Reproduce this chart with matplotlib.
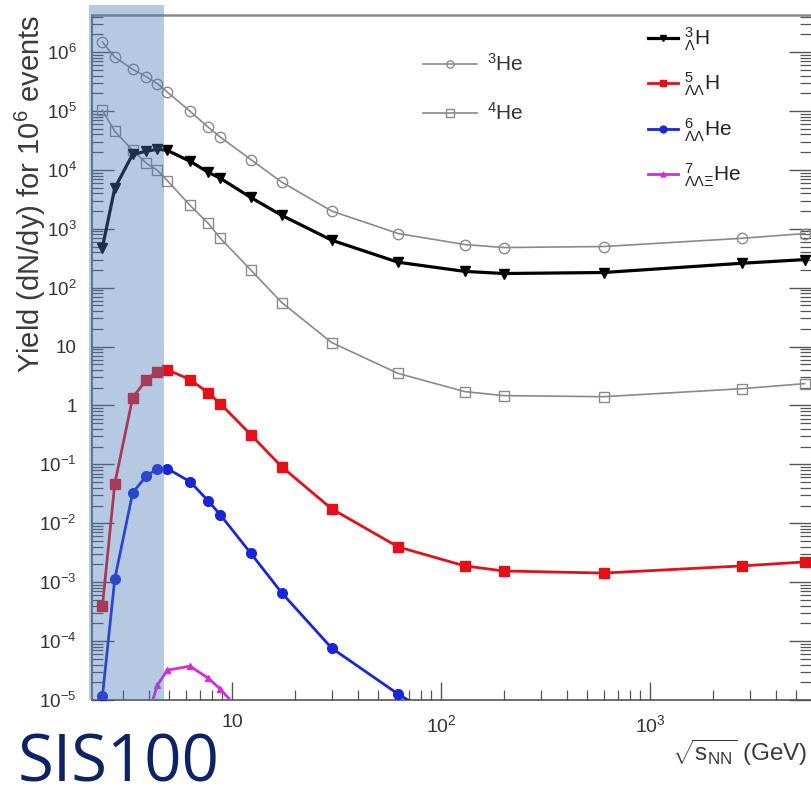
import matplotlib
matplotlib.use("Agg")
import matplotlib.pyplot as plt
from matplotlib.ticker import LogLocator, FixedLocator, FuncFormatter, NullFormatter
import math

plt.rcParams['font.family'] = ['Liberation Sans', 'DejaVu Sans']
plt.rcParams['mathtext.fontset'] = 'custom'
plt.rcParams['mathtext.rm'] = 'Liberation Sans'
plt.rcParams['mathtext.it'] = 'Liberation Sans'
plt.rcParams['mathtext.bf'] = 'Liberation Sans:bold'
plt.rcParams['mathtext.sf'] = 'Liberation Sans'

# ---------------- data ----------------
energies = [2.4, 2.75, 3.35, 3.9, 4.4, 4.9, 6.3, 7.7, 8.8, 12.3, 17.3, 30, 62.4, 130, 200, 600, 2760, 5500]
he3 = [1.48e6, 8.2e5, 5.1e5, 3.8e5, 2.9e5, 2.1e5, 9.9e4, 5.3e4, 3.6e4, 1.5e4, 6.2e3, 2.0e3,
       8.3e2, 5.4e2, 4.8e2, 5.0e2, 6.9e2, 8.3e2]
he4 = [1.03e5, 4.5e4, 2.15e4, 1.29e4, 9.8e3, 6.6e3, 2.5e3, 1.24e3, 6.9e2, 2.0e2, 56, 11.7,
       3.5, 1.72, 1.47, 1.41, 1.93, 2.35]
h3l = [4.8e2, 4.9e3, 1.84e4, 2.07e4, 2.24e4, 2.15e4, 1.40e4, 9.1e3, 7.2e3, 3.4e3, 1.69e3, 6.4e2,
       2.7e2, 1.89e2, 1.74e2, 1.81e2, 2.6e2, 3.0e2]
h5ll = [3.9e-4, 4.7e-2, 1.36, 2.75, 3.76, 4.06, 2.75, 1.65, 1.07, 0.32, 0.091, 0.0176,
        3.97e-3, 1.89e-3, 1.55e-3, 1.43e-3, 1.89e-3, 2.21e-3]
energies_he6 = [2.4, 2.75, 3.35, 3.9, 4.4, 4.9, 6.3, 7.7, 8.8, 12.3, 17.3, 30, 62.4, 130]
he6ll = [1.15e-5, 1.13e-3, 0.033, 0.064, 0.084, 0.085, 0.051, 0.024, 0.0139, 3.1e-3, 6.6e-4,
         7.6e-5, 1.26e-5, 2.6e-6]
energies_he7 = [3.9, 4.4, 4.9, 6.3, 7.7, 8.8, 12.3]
he7 = [4.6e-6, 1.79e-5, 3.2e-5, 3.76e-5, 2.35e-5, 1.53e-5, 4.1e-6]

sis100_range = [2.07, 4.75]

labels_light = [r'$^{3}$He', r'$^{4}$He']
labels_hyper = [r'$^{3}_{\Lambda}$H', r'$^{5}_{\Lambda\Lambda}$H',
                r'$^{6}_{\Lambda\Lambda}$He', r'$^{7}_{\Lambda\Lambda\Xi}$He']

x_major = [10, 100, 1000]
x_major_labels = ['10', r'10$^{2}$', r'10$^{3}$']

# ---------------- figure ----------------
W, H = 811, 788
fig = plt.figure(figsize=(W / 100, H / 100), dpi=100)
ax = fig.add_axes([92 / W, 1 - 700 / H, (811 - 92) / W, (700 - 15) / H])
ax.set_xscale('log')
ax.set_yscale('log')
ax.set_xlim(2.14, 5890)
ax.set_ylim(1e-5, 4.26e6)

grey = '#8a8a8a'
l_he3, = ax.plot(energies, he3, '-', color=grey, lw=1.2, marker='o', ms=7.5,
                 mfc='none', mec=grey, mew=1.0, zorder=3)
l_he4, = ax.plot(energies, he4, '-', color=grey, lw=1.2, marker='s', ms=7.5,
                 mfc='none', mec=grey, mew=1.0, zorder=3)
l_h3l, = ax.plot(energies, h3l, '-', color='black', lw=2.3, marker='v', ms=7,
                 mfc='black', mec='black', zorder=3)
l_h5, = ax.plot(energies, h5ll, '-', color='#e3101c', lw=2.0, marker='s', ms=7,
                mfc='#e3101c', mec='#e3101c', zorder=3)
l_he6, = ax.plot(energies_he6, he6ll, '-', color='#1a26d6', lw=2.0, marker='o', ms=7,
                 mfc='#1a26d6', mec='#1a26d6', zorder=3)
l_he7, = ax.plot(energies_he7, he7, '-', color='#d82ad8', lw=2.0, marker='^', ms=5,
                 mfc='#d82ad8', mec='#d82ad8', zorder=3)

# SIS100 band
ax.axvspan(sis100_range[0], sis100_range[1], ymin=0, ymax=1.015, color=(0.29, 0.48, 0.72),
           alpha=0.4, lw=0, clip_on=False, zorder=6)

# ticks
ax.xaxis.set_major_locator(FixedLocator(x_major))
ax.set_xticklabels(x_major_labels)
ax.xaxis.set_minor_locator(LogLocator(base=10, subs=range(2, 10), numticks=100))
ax.xaxis.set_minor_formatter(NullFormatter())


def yfmt(v, pos):
    k = int(round(math.log10(v)))
    if k == 0:
        return '1'
    if k == 1:
        return '10'
    return r'10$^{%d}$' % k


ax.yaxis.set_major_locator(LogLocator(base=10, numticks=30))
ax.yaxis.set_major_formatter(FuncFormatter(yfmt))
ax.yaxis.set_minor_locator(LogLocator(base=10, subs=range(2, 10), numticks=100))
ax.yaxis.set_minor_formatter(NullFormatter())

ax.tick_params(axis='y', which='major', direction='in', length=16, width=1.0,
               left=True, right=True, labelsize=13.5, pad=11, colors='#555555',
               labelcolor='#333333')
ax.tick_params(axis='y', which='minor', direction='in', length=8, width=0.9,
               left=True, right=True, colors='#555555')
ax.tick_params(axis='x', which='major', direction='in', length=13, width=1.0,
               bottom=True, top=False, labelsize=14, pad=10, colors='#555555',
               labelcolor='#333333')
ax.tick_params(axis='x', which='minor', direction='in', length=7, width=0.9,
               bottom=True, top=False, colors='#555555')

for s in ['left', 'bottom']:
    ax.spines[s].set_color('#555555')
    ax.spines[s].set_linewidth(1.2)
ax.spines['top'].set_color('#888888')
ax.spines['top'].set_linewidth(1.8)
ax.spines['right'].set_visible(False)

ax.set_ylabel(r'Yield (dN/dy) for 10$^{6}$ events', fontsize=21, color='#3a3a3a', loc='top')
ax.yaxis.set_label_coords(-0.061, 1.0)
ax.set_xlabel(r'$\sqrt{\mathrm{s}_{\mathrm{NN}}}$ (GeV)', fontsize=17.5, color='#3a3a3a', loc='right')
ax.xaxis.set_label_coords(0.995, -0.055)

leg1 = ax.legend([l_he3, l_he4], labels_light, loc='upper left',
                 bbox_to_anchor=(0.460, 0.944), frameon=False, fontsize=15,
                 handlelength=2.6, handletextpad=0.5, labelspacing=1.3,
                 borderpad=0, borderaxespad=0, markerscale=0.7)
for t in leg1.get_texts():
    t.set_color('#333333')
ax.add_artist(leg1)
leg2 = ax.legend([l_h3l, l_h5, l_he6, l_he7], labels_hyper, loc='upper left',
                 bbox_to_anchor=(0.773, 0.984), frameon=False, fontsize=15,
                 handlelength=1.45, handletextpad=0.3, labelspacing=0.85,
                 borderpad=0, borderaxespad=0, markerscale=0.7)
for t in leg2.get_texts():
    t.set_color('#222222')

fig.text(18 / W, (H - 781) / H, 'SIS100', fontsize=47, color='#0e2364',
         family=['Open Sans', 'DejaVu Sans'], ha='left', va='baseline')

fig.savefig('out.png', dpi=100)
